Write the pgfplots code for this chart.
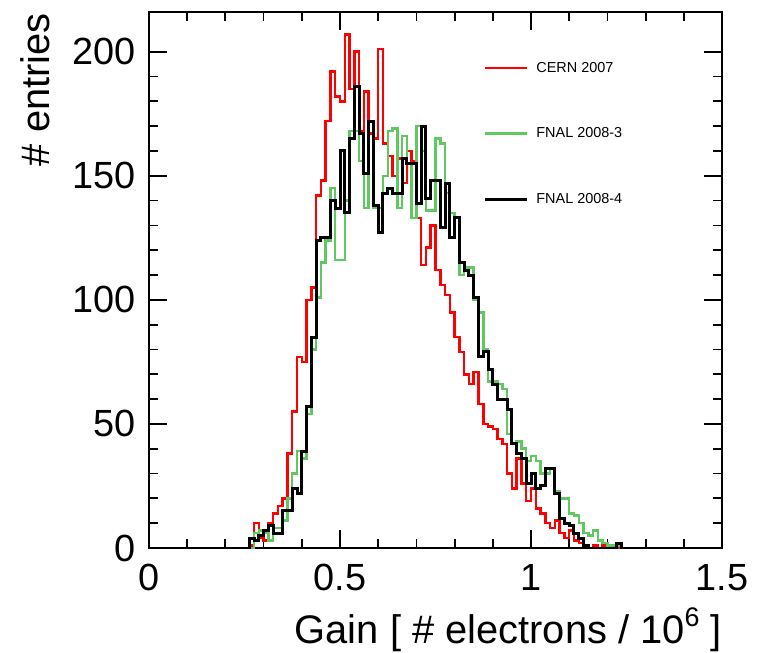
\documentclass[border=0pt]{standalone}
\usepackage{fontspec}
\setmainfont{Liberation Sans}
\usepackage{pgfplots}
\usepackage{pgfplotstable}
\pgfplotsset{compat=1.18}
\definecolor{hred}{RGB}{255,0,0}
\definecolor{hgreen}{RGB}{96,200,96}
\pgfplotstableread{
x red green black
0.0000 0 0 0
0.2500 0 0 0
0.2625 1 0 4
0.2750 10 6 3
0.2875 4 7 5
0.3000 3 6 7
0.3125 10 3 9
0.3250 14 8 6
0.3375 17 8 6
0.3500 20 11 15
0.3625 38 20 15
0.3750 55 30 24
0.3875 77 39 22
0.4000 75 36 39
0.4125 100 54 57
0.4250 105 80 85
0.4375 142 101 124
0.4500 148 115 125
0.4625 172 124 125
0.4750 192 145 140
0.4875 182 116 137
0.5000 180 116 160
0.5125 207 140 135
0.5250 185 168 165
0.5375 200 168 186
0.5500 168 156 167
0.5625 184 137 151
0.5750 167 172 172
0.5875 165 137 138
0.6000 201 137 127
0.6125 163 150 143
0.6250 158 168 145
0.6375 150 169 143
0.6500 157 137 143
0.6625 147 166 157
0.6750 160 155 155
0.6875 156 133 155
0.7000 133 170 139
0.7125 114 160 170
0.7250 121 136 141
0.7375 130 136 148
0.7500 112 165 148
0.7625 106 163 129
0.7750 102 143 147
0.7875 95 135 125
0.8000 85 133 133
0.8125 79 110 115
0.8250 70 113 112
0.8375 66 113 110
0.8500 71 100 101
0.8625 58 95 77
0.8750 50 80 79
0.8875 49 67 72
0.9000 48 67 66
0.9125 44 66 60
0.9250 42 64 60
0.9375 30 46 56
0.9500 24 42 42
0.9625 36 43 38
0.9750 26 40 36
0.9875 19 35 26
1.0000 24 37 30
1.0125 16 35 24
1.0250 14 30 25
1.0375 10 30 32
1.0500 8 32 32
1.0625 11 23 22
1.0750 6 20 12
1.0875 4 20 10
1.1000 7 14 9
1.1125 3 13 6
1.1250 2 10 4
1.1375 1 6 1
1.1500 0 5 0
1.1625 1 7 0
1.1750 0 3 0
1.1875 1 2 0
1.2000 0 1 0
1.2125 0 1 0
1.2250 0 1 2
1.2375 0 0 0
1.5000 0 0 0
}\histdata

\begin{document}
\begin{tikzpicture}
\useasboundingbox (-149bp,-105bp) rectangle (614bp,548bp);
\begin{axis}[
  at={(0,0)}, anchor=south west,
  scale only axis, width=573bp, height=536bp,
  xmin=0, xmax=1.5, ymin=0, ymax=216,
  xtick={0,0.5,1,1.5}, ytick={0,50,100,150,200},
  minor x tick num=4, minor y tick num=4,
  tick align=inside,
  major tick length=18bp, minor tick length=9bp,
  axis line style={line width=1.8bp},
  every tick/.style={black, line width=1.8bp},
  /pgf/number format/assume math mode=true,
  tick label style={font=\fontsize{38}{44}\selectfont},
  xticklabel style={inner sep=0pt, yshift=-16bp},
  yticklabel style={inner sep=0pt, xshift=-13bp},
  label style={font=\fontsize{40}{46}\selectfont},
  xlabel={Gain [ \# electrons / 10\raisebox{0.42em}{\fontsize{27}{30}\selectfont 6} ]},
  ylabel={\# entries},
  xlabel style={at={([yshift=-95bp]axis description cs:1,0)}, anchor=base east, inner sep=0pt},
  ylabel style={at={([xshift=-99bp,yshift=-1bp]axis description cs:0,1)}, anchor=base east, inner sep=0pt},
  legend style={draw=none, fill=none, at={(rel axis cs:0.578,0.914)}, anchor=north west,
    font=\fontsize{14.5}{17}\selectfont, row sep=50bp, column sep=6bp},
  legend cell align=left,
  legend image code/.code={\draw[#1] (0bp,0bp) -- (42bp,0bp);},
]
\addplot[const plot, color=hred, line width=2.5bp] table[x=x, y=red] {\histdata};
\addlegendentry{CERN 2007}
\addplot[const plot, color=hgreen, line width=2.5bp] table[x=x, y=green] {\histdata};
\addlegendentry{FNAL 2008-3}
\addplot[const plot, color=black, line width=3bp] table[x=x, y=black] {\histdata};
\addlegendentry{FNAL 2008-4}
\end{axis}
\end{tikzpicture}
\end{document}
